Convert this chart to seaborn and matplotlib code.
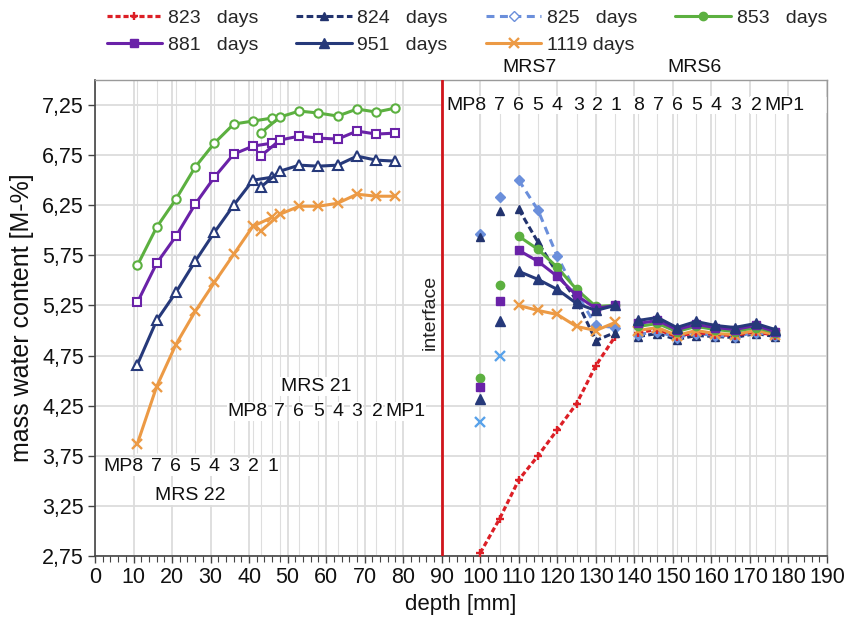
import matplotlib
matplotlib.use("Agg")
import matplotlib.pyplot as plt
from matplotlib.lines import Line2D
from matplotlib.patches import Rectangle
from matplotlib.ticker import MultipleLocator, FixedLocator, FuncFormatter
import numpy as np
import seaborn as sns

sns.set_theme(style="white")
plt.rcParams['font.family'] = ['Liberation Sans', 'DejaVu Sans']

# ---- measuring point depths [mm] ----
depth_mrs22 = [11, 16, 21, 26, 31, 36, 41, 46]
depth_mrs21 = [43, 48, 53, 58, 63, 68, 73, 78]
depth_mrs7 = [100, 105, 110, 115, 120, 125, 130, 135]
depth_mrs6 = [141, 146, 151, 156, 161, 166, 171.5, 176.5]

# ---- mass water content [M-%] per measuring campaign ----
# 823 days
w823_mrs7 = [2.78, 3.12, 3.51, 3.75, 4.01, 4.27, 4.65, 4.94]
w823_mrs6 = [4.98, 5.01, 4.94, 4.98, 4.96, 4.95, 4.99, 4.95]
# 824 days
w824_mrs7 = [5.93, 6.19, 6.21, 5.88, 5.57, 5.30, 4.90, 4.98]
w824_mrs6 = [4.94, 4.97, 4.91, 4.95, 4.94, 4.93, 4.97, 4.94]
# 825 days
w825_mrs7 = [5.96, 6.33, 6.50, 6.20, 5.74, 5.37, 5.05, 5.03]
w825_mrs6 = [4.96, 4.99, 4.93, 4.97, 4.95, 4.94, 4.98, 4.95]
# 853 days
w853_mrs22 = [5.65, 6.03, 6.31, 6.63, 6.87, 7.06, 7.09, 7.12]
w853_mrs21 = [6.97, 7.13, 7.19, 7.17, 7.14, 7.21, 7.18, 7.22]
w853_mrs7 = [4.53, 5.45, 5.94, 5.81, 5.63, 5.41, 5.24, 5.25]
w853_mrs6 = [5.04, 5.07, 4.99, 5.04, 5.01, 4.99, 5.03, 4.98]
# 881 days
w881_mrs22 = [5.28, 5.67, 5.94, 6.26, 6.53, 6.76, 6.84, 6.87]
w881_mrs21 = [6.74, 6.90, 6.94, 6.92, 6.91, 6.99, 6.96, 6.97]
w881_mrs7 = [4.44, 5.29, 5.80, 5.69, 5.54, 5.35, 5.22, 5.25]
w881_mrs6 = [5.07, 5.10, 5.01, 5.06, 5.03, 5.01, 5.05, 4.99]
# 951 days
w951_mrs22 = [4.66, 5.10, 5.38, 5.69, 5.98, 6.25, 6.50, 6.53]
w951_mrs21 = [6.43, 6.59, 6.65, 6.64, 6.65, 6.74, 6.70, 6.69]
w951_mrs7 = [4.32, 5.09, 5.59, 5.51, 5.41, 5.27, 5.20, 5.25]
w951_mrs6 = [5.10, 5.13, 5.03, 5.09, 5.05, 5.03, 5.07, 5.01]
# 1119 days
w1119_mrs22 = [3.87, 4.44, 4.86, 5.19, 5.48, 5.76, 6.04, 6.13]
w1119_mrs21 = [5.99, 6.16, 6.24, 6.24, 6.27, 6.36, 6.34, 6.34]
w1119_mrs7 = [4.09, 4.75, 5.25, 5.20, 5.16, 5.04, 5.00, 5.08]
w1119_mrs6 = [5.00, 5.03, 4.95, 5.00, 4.97, 4.96, 5.00, 4.96]

labels = ["823   days", "824   days", "825   days", "853   days",
          "881   days", "951   days", "1119 days"]

RED = "#dc1f26"
NAVY_D = "#22336e"
LBLUE = "#6b8fdb"
GREEN = "#5cb040"
PURPLE = "#6a22a8"
NAVY = "#26397a"
ORANGE = "#ec9a45"
XBLUE = "#58a2ea"

styles = {
    "823":  dict(color=RED, ls=(0, (1.6, 0.9)), marker="+", ms=6, lw=2.3),
    "824":  dict(color=NAVY_D, ls=(0, (2.2, 1.1)), marker="^", ms=5.5, lw=2.2),
    "825":  dict(color=LBLUE, ls=(0, (2.6, 1.8)), marker="D", ms=5, lw=2.2),
    "853":  dict(color=GREEN, ls="-", marker="o", ms=6, lw=2.2),
    "881":  dict(color=PURPLE, ls="-", marker="s", ms=6, lw=2.2),
    "951":  dict(color=NAVY, ls="-", marker="^", ms=6.5, lw=2.2),
    "1119": dict(color=ORANGE, ls="-", marker="x", ms=6.5, lw=2.2),
}

fig = plt.figure(figsize=(8.45, 6.19), dpi=100)
ax = fig.add_axes([0.1124, 0.1018, 0.8663, 0.769])

NARROW = ['Liberation Sans Narrow', 'Liberation Sans', 'DejaVu Sans']


def draw(key, x, y, hollow=False, joined=True, color=None):
    st = styles[key]
    c = color or st["color"]
    mfc = "white" if hollow else c
    mew = 1.7 if st["marker"] in ("x", "+") else (1.5 if hollow else 1.0)
    sns.lineplot(x=x, y=y, ax=ax, sort=False, estimator=None, legend=False,
                 color=c, linestyle=st["ls"] if joined else "none",
                 linewidth=st["lw"], marker=st["marker"], markersize=st["ms"],
                 markerfacecolor=mfc, markeredgecolor=c, markeredgewidth=mew,
                 zorder=4)


# grey drop lines at each measuring point
ax.vlines(depth_mrs22, 3.78, 7.5, color="#dedede", lw=0.8, zorder=1)
ax.vlines(depth_mrs21, 2.75, 7.5, color="#dedede", lw=0.8, zorder=1)
ax.vlines(depth_mrs7 + depth_mrs6, 2.75, 7.17, color="#dedede", lw=0.8, zorder=1)
ax.add_patch(Rectangle((90.3, 7.17), 99.6, 0.16, facecolor="white",
                       edgecolor="none", zorder=1.5))

# left column: MRS 22 and MRS 21
for key, a, b in [("853", w853_mrs22, w853_mrs21), ("881", w881_mrs22, w881_mrs21),
                  ("951", w951_mrs22, w951_mrs21), ("1119", w1119_mrs22, w1119_mrs21)]:
    draw(key, depth_mrs22, a, hollow=True)
    draw(key, depth_mrs21, b, hollow=True)

# right column: MRS7 and MRS6
draw("823", depth_mrs7, w823_mrs7)
for key, v in [("825", w825_mrs7), ("824", w824_mrs7), ("853", w853_mrs7),
               ("881", w881_mrs7), ("951", w951_mrs7), ("1119", w1119_mrs7)]:
    # MP8 and MP7 are shown as single readings
    loose_color = XBLUE if key == "1119" else None
    draw(key, depth_mrs7[:2], v[:2], joined=False, color=loose_color)
    draw(key, depth_mrs7[2:], v[2:])

for key, v in [("824", w824_mrs6), ("825", w825_mrs6), ("823", w823_mrs6),
               ("1119", w1119_mrs6), ("853", w853_mrs6), ("881", w881_mrs6),
               ("951", w951_mrs6)]:
    draw(key, depth_mrs6, v)

# interface
ax.axvline(90, color="#d0141b", lw=2.0, zorder=3)
ax.text(87.0, 5.18, "interface", rotation=90, ha="center", va="center",
        fontsize=14, color="#222222", zorder=5)

# axes
ax.set_xlim(0, 190)
ax.set_ylim(2.75, 7.5)
ax.xaxis.set_major_locator(MultipleLocator(10))
ax.xaxis.set_minor_locator(MultipleLocator(2))
ax.yaxis.set_major_locator(FixedLocator(np.arange(2.75, 7.26, 0.5)))
ax.yaxis.set_major_formatter(FuncFormatter(lambda v, p: f"{v:.2f}".replace(".", ",")))
ax.set_axisbelow(True)
ax.grid(True, which="major", color="#dcdcdc", lw=1.3)
ax.tick_params(axis="both", which="major", direction="out", length=5, width=1,
               color="#444444", labelsize=15.5, labelcolor="#111111", pad=3,
               bottom=True, left=True)
ax.tick_params(axis="x", which="minor", direction="out", length=4, width=0.8,
               color="#444444", bottom=True)
for lab in ax.get_xticklabels() + ax.get_yticklabels():
    lab.set_family(NARROW)
for s in ("top", "right"):
    ax.spines[s].set_color("#9a9a9a")
    ax.spines[s].set_linewidth(1.0)
for s in ("left", "bottom"):
    ax.spines[s].set_color("#444444")
    ax.spines[s].set_linewidth(1.2)

ax.set_xlabel("depth [mm]", fontsize=16, family=NARROW, color="#111111", labelpad=4)
ax.set_ylabel("mass water content [M-%]", fontsize=18, family=NARROW,
              color="#111111", labelpad=6)

# measuring point annotations
lab_kw = dict(fontsize=14, ha="center", va="center", color="#111111", zorder=6,
              bbox=dict(facecolor="white", edgecolor="none", pad=0.5))
ax.text(24.7, 3.35, "MRS 22", **lab_kw)
for xx, t in zip([7.4, 16, 21, 26, 30.8, 35.9, 41.1, 46.1],
                 ["MP8", "7", "6", "5", "4", "3", "2", "1"]):
    ax.text(xx, 3.64, t, **lab_kw)
ax.text(57.5, 4.44, "MRS 21", **lab_kw)
for xx, t in zip([39.6, 47.8, 52.7, 58.1, 63.1, 67.9, 73.2, 80.6],
                 ["MP8", "7", "6", "5", "4", "3", "2", "MP1"]):
    ax.text(xx, 4.19, t, **lab_kw)
for xx, t in zip([96.5, 105, 110, 115, 120, 125.6, 130.5, 135.1],
                 ["MP8", "7", "6", "5", "4", "3", "2", "1"]):
    ax.text(xx, 7.25, t, **lab_kw)
for xx, t in zip([141.2, 146.2, 151.2, 156.3, 161.3, 166.3, 171.6, 179.0],
                 ["8", "7", "6", "5", "4", "3", "2", "MP1"]):
    ax.text(xx, 7.25, t, **lab_kw)
ax.text(112.8, 7.62, "MRS7", fontsize=14, ha="center", va="center",
        color="#111111", clip_on=False)
ax.text(155.7, 7.62, "MRS6", fontsize=14, ha="center", va="center",
        color="#111111", clip_on=False)

# legend
handles = {}
for key, lab in zip(styles.keys(), labels):
    st = styles[key]
    mew = 1.7 if st["marker"] in ("x", "+") else 1.0
    mfc = "white" if key == "825" else st["color"]
    handles[key] = Line2D([], [], color=st["color"], linestyle=st["ls"],
                          linewidth=st["lw"], marker=st["marker"],
                          markersize=st["ms"], markerfacecolor=mfc,
                          markeredgecolor=st["color"], markeredgewidth=mew,
                          label=lab)
order = ["823", "881", "824", "951", "825", "1119", "853"]
leg = fig.legend([handles[k] for k in order], [handles[k].get_label() for k in order],
                 ncol=4, loc="upper left", bbox_to_anchor=(0.117, 0.998),
                 frameon=False, handlelength=2.85, handletextpad=0.3,
                 columnspacing=1.95, labelspacing=0.5, borderaxespad=0.0,
                 prop=dict(family=NARROW, size=14))

fig.savefig("out.png", dpi=100)
